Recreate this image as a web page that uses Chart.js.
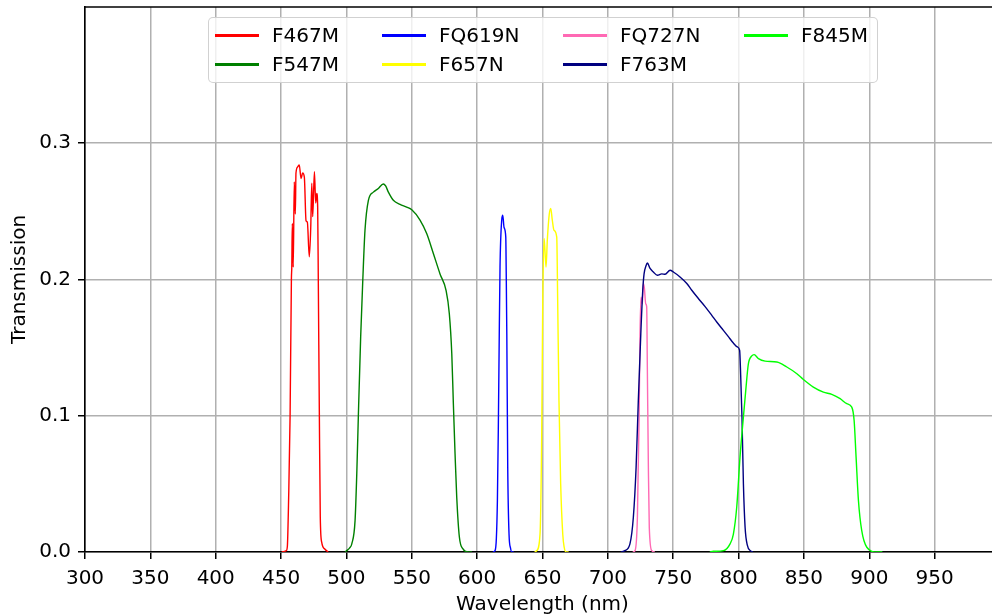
<!DOCTYPE html>
<html>
<head>
<meta charset="utf-8">
<script src="https://cdn.jsdelivr.net/npm/chart.js@4.4.1/dist/chart.umd.min.js"></script>
<style>
  html, body { margin: 0; padding: 0; background: #ffffff; overflow: hidden; width: 992px; height: 616px; }
  #wrap { position: relative; width: 1000px; height: 616px; }
  #c { display: block; }
  #legend { position: absolute; left: 208px; top: 17px; width: 668px; height: 64px;
    border: 1.5px solid rgba(204,204,204,0.9); border-radius: 5px; background: rgba(255,255,255,0.8);
    font-family: "DejaVu Sans", sans-serif; font-size: 20px; color: #000; }
  .item { position: absolute; height: 24px; line-height: 24px; white-space: nowrap; }
  .sw { position: absolute; top: 10.5px; width: 44px; height: 3px; }
  .lbl { position: absolute; top: 0; }
</style>
</head>
<body>
<div id="wrap">
  <canvas id="c" width="1000" height="616"></canvas>
  <div id="legend"></div>
</div>
<script>
// ---------------- data ----------------
const filterNames = ['F467M', 'F547M', 'FQ619N', 'F657N', 'FQ727N', 'F763M', 'F845M'];
const filterColors = ['#ff0000', '#008000', '#0000ff', '#ffff00', '#ff69b4', '#000080', '#00ff00'];

const f467mWave  = [450.5, 452.5, 454.0, 454.8, 455.8, 456.9, 457.9, 458.2, 458.6, 459.3, 460.1, 460.9, 461.4, 462.7, 463.9, 465.3, 466.5, 467.8, 469.1, 470.1, 471.6, 472.7, 473.5, 474.2, 475.5, 476.5, 477.3, 478.0, 478.5, 479.3, 480.0, 481.1, 483.6, 486.0];
const f467mTrans = [0.0, 0.0005, 0.001, 0.004, 0.04, 0.10, 0.20, 0.209, 0.241, 0.209, 0.2715, 0.248, 0.278, 0.2825, 0.284, 0.274, 0.278, 0.275, 0.243, 0.242, 0.2165, 0.238, 0.2705, 0.246, 0.279, 0.256, 0.263, 0.253, 0.197, 0.099, 0.0255, 0.007, 0.002, 0.0];

const f547mWave  = [499.0, 500.2, 502.5, 504.1, 506.6, 508.0, 509.1, 510.9, 512.5, 514.2, 516.8, 520.6, 524.4, 528.2, 530.0, 532.1, 535.9, 541.0, 546.1, 550.0, 556.3, 561.4, 566.5, 571.6, 576.2, 578.7, 580.6, 581.8, 583.1, 584.4, 586.4, 589.4, 593.3, 596.0];
const f547mTrans = [0.0, 0.001, 0.003, 0.006, 0.023, 0.06, 0.099, 0.158, 0.199, 0.236, 0.258, 0.264, 0.2667, 0.270, 0.2685, 0.264, 0.258, 0.255, 0.253, 0.251, 0.2435, 0.2336, 0.219, 0.204, 0.192, 0.175, 0.1455, 0.109, 0.072, 0.040, 0.011, 0.002, 0.0, 0.0];

const fq619nWave  = [612.0, 613.7, 614.7, 615.5, 616.2, 616.8, 617.5, 618.8, 619.6, 620.6, 621.9, 622.3, 622.7, 623.4, 624.4, 625.5, 626.5, 628.0];
const fq619nTrans = [0.0, 0.001, 0.01, 0.038, 0.09, 0.148, 0.209, 0.2434, 0.247, 0.238, 0.231, 0.20, 0.160, 0.062, 0.013, 0.003, 0.0, 0.0];

const f657nWave  = [644.0, 645.6, 648.1, 649.4, 650.2, 651.2, 651.9, 652.7, 653.7, 655.2, 656.3, 657.5, 658.8, 660.9, 661.6, 662.6, 663.9, 665.5, 666.5, 668.0, 670.0];
const f657nTrans = [0.0, 0.001, 0.013, 0.087, 0.185, 0.230, 0.221, 0.209, 0.229, 0.248, 0.252, 0.2434, 0.236, 0.231, 0.185, 0.111, 0.050, 0.013, 0.004, 0.0, 0.0];

const fq727nWave  = [719.0, 720.8, 722.6, 723.9, 724.6, 725.4, 726.4, 727.1, 727.9, 729.0, 729.7, 730.2, 731.0, 731.7, 733.6, 736.0];
const fq727nTrans = [0.0, 0.001, 0.0255, 0.099, 0.160, 0.187, 0.182, 0.197, 0.194, 0.182, 0.180, 0.1357, 0.062, 0.018, 0.001, 0.0];

const f763mWave  = [710.0, 713.0, 716.9, 719.5, 721.6, 723.3, 725.2, 726.7, 727.7, 729.2, 730.2, 732.3, 734.8, 737.9, 741.2, 743.8, 747.6, 750.1, 755.2, 760.4, 764.2, 769.2, 774.4, 779.5, 783.3, 788.4, 792.2, 796.0, 799.1, 800.8, 801.6, 802.6, 803.7, 805.0, 806.7, 809.0, 811.0];
const f763mTrans = [0.0, 0.001, 0.006, 0.0255, 0.062, 0.111, 0.160, 0.192, 0.204, 0.210, 0.212, 0.208, 0.2054, 0.203, 0.204, 0.2037, 0.2067, 0.2054, 0.2018, 0.197, 0.192, 0.186, 0.180, 0.1736, 0.1687, 0.1626, 0.158, 0.1533, 0.1504, 0.148, 0.130, 0.099, 0.050, 0.018, 0.005, 0.001, 0.0];

const f845mWave  = [778.0, 780.7, 788.4, 793.5, 796.0, 798.6, 801.1, 803.7, 805.5, 807.5, 810.1, 811.9, 815.2, 820.3, 829.3, 836.9, 844.6, 849.6, 857.2, 864.9, 871.3, 877.7, 882.8, 886.6, 888.4, 889.9, 891.7, 894.2, 898.1, 905.7, 910.0];
const f845mTrans = [0.0, 0.0005, 0.001, 0.006, 0.013, 0.033, 0.0696, 0.099, 0.1186, 0.138, 0.1438, 0.1448, 0.1418, 0.140, 0.1394, 0.1357, 0.1308, 0.1265, 0.121, 0.1173, 0.1156, 0.1125, 0.1088, 0.1063, 0.0965, 0.0696, 0.0378, 0.0158, 0.0035, 0.0, 0.0];

const xTickStep = 50;
const yTickStep = 0.1;

// ---------------- build datasets ----------------
const waves  = [f467mWave, f547mWave, fq619nWave, f657nWave, fq727nWave, f763mWave, f845mWave];
const transs = [f467mTrans, f547mTrans, fq619nTrans, f657nTrans, fq727nTrans, f763mTrans, f845mTrans];

const datasets = filterNames.map((name, i) => ({
  label: name,
  data: waves[i].map((w, j) => ({ x: w, y: transs[i][j] })),
  borderColor: filterColors[i],
  backgroundColor: filterColors[i],
  borderWidth: 1.4,
  pointRadius: 0,
  cubicInterpolationMode: 'monotone',
  fill: false,
  order: filterNames.length - i
}));

const FONT = { family: 'DejaVu Sans', size: 20 };

const topSpine = {
  id: 'topSpine',
  afterDraw(chart) {
    const { ctx, chartArea } = chart;
    ctx.save();
    ctx.strokeStyle = '#000';
    ctx.lineWidth = 1.6;
    ctx.beginPath();
    ctx.moveTo(chartArea.left, chartArea.top);
    ctx.lineTo(chartArea.right, chartArea.top);
    ctx.stroke();
    ctx.restore();
  }
};

new Chart(document.getElementById('c').getContext('2d'), {
  type: 'line',
  data: { datasets },
  options: {
    responsive: false,
    animation: false,
    layout: { padding: { top: 7, right: 0, bottom: 0, left: 0 } },
    plugins: { legend: { display: false }, tooltip: { enabled: false } },
    scales: {
      x: {
        type: 'linear',
        min: 300, max: 1000,
        afterBuildTicks: s => { s.ticks = s.ticks.filter(t => t.value <= 950); },
        afterFit: s => { s.height = 64; s.paddingLeft = 0; s.paddingRight = 0; },
        ticks: { stepSize: xTickStep, includeBounds: false, autoSkip: false, maxRotation: 0,
                 color: '#000', font: FONT, padding: 8 },
        grid: { color: '#b0b0b0', lineWidth: 1.5, tickLength: 7, tickColor: '#000', tickWidth: 1.5 },
        border: { color: '#000', width: 1.6 },
        title: { display: true, text: 'Wavelength (nm)', color: '#000', font: FONT, padding: { top: 0, bottom: -1 } }
      },
      y: {
        type: 'linear',
        min: 0, max: 0.3998,
        afterFit: s => { s.width = 85; s.paddingTop = 0; s.paddingBottom = 0; },
        ticks: { stepSize: yTickStep, includeBounds: false, color: '#000', font: FONT, padding: 7,
                 callback: v => v.toFixed(1) },
        grid: { color: '#b0b0b0', lineWidth: 1.5, tickLength: 7, tickColor: '#000', tickWidth: 1.5 },
        border: { color: '#000', width: 1.6 },
        title: { display: true, text: 'Transmission', color: '#000', font: FONT, padding: { top: 8, bottom: 0 } }
      }
    }
  },
  plugins: [topSpine]
});

// ---------------- legend (matplotlib style, 4 columns, column-major) ----------------
const legend = document.getElementById('legend');
const colLeft = [6, 173, 354, 535];   // handle start relative to legend box
const textOffset = 57;
const rowTop = [5, 34];
filterNames.forEach((name, i) => {
  const col = Math.floor(i / 2), row = i % 2;
  const item = document.createElement('div');
  item.className = 'item';
  item.style.left = colLeft[col] + 'px';
  item.style.top = rowTop[row] + 'px';
  const sw = document.createElement('span');
  sw.className = 'sw';
  sw.style.left = '0px';
  sw.style.background = filterColors[i];
  const lbl = document.createElement('span');
  lbl.className = 'lbl';
  lbl.style.left = textOffset + 'px';
  lbl.textContent = name;
  item.appendChild(sw);
  item.appendChild(lbl);
  legend.appendChild(item);
});
</script>
</body>
</html>
